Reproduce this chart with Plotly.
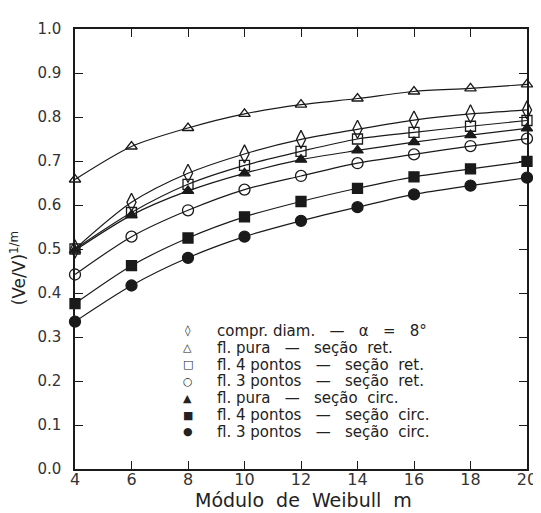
import plotly.graph_objects as go

m_values = [4, 6, 8, 10, 12, 14, 16, 18, 20]

compr_diam = [0.500, 0.606, 0.672, 0.716, 0.749, 0.772, 0.793, 0.807, 0.816]
pura_ret = [0.658, 0.733, 0.775, 0.807, 0.828, 0.842, 0.858, 0.865, 0.874]
quatro_ret = [0.500, 0.583, 0.647, 0.690, 0.722, 0.750, 0.765, 0.779, 0.792]
tres_ret = [0.442, 0.528, 0.588, 0.635, 0.666, 0.695, 0.715, 0.734, 0.751]
pura_circ = [0.497, 0.577, 0.632, 0.672, 0.703, 0.724, 0.743, 0.759, 0.774]
quatro_circ = [0.376, 0.462, 0.525, 0.573, 0.608, 0.638, 0.664, 0.682, 0.699]
tres_circ = [0.335, 0.417, 0.480, 0.528, 0.564, 0.595, 0.624, 0.644, 0.662]

NB = "\u00a0"
names = [
    f"compr.{NB}diam.{NB*3}—{NB*3}α{NB*3}={NB*3}8°",
    f"fl.{NB}pura{NB*3}—{NB*3}seção{NB*2}ret.",
    f"fl.{NB}4{NB}pontos{NB*3}—{NB*3}seção{NB*2}ret.",
    f"fl.{NB}3{NB}pontos{NB*3}—{NB*3}seção{NB*2}ret.",
    f"fl.{NB}pura{NB*3}—{NB*3}seção{NB*2}circ.",
    f"fl.{NB}4{NB}pontos{NB*3}—{NB*3}seção{NB*2}circ.",
    f"fl.{NB}3{NB}pontos{NB*3}—{NB*3}seção{NB*2}circ.",
]
legend_glyphs = ["◊", "△", "□", "○", "▲", "■", "●"]
series = [compr_diam, pura_ret, quatro_ret, tres_ret, pura_circ, quatro_circ, tres_circ]
symbols = ["diamond-tall-open", "triangle-up-open", "square-open", "circle-open",
           "triangle-up", "square", "circle"]
sizes = [13, 10, 10, 11, 10, 10, 11]

x_ticks = [4, 6, 8, 10, 12, 14, 16, 18, 20]
y_ticks = [0.0, 0.1, 0.2, 0.3, 0.4, 0.5, 0.6, 0.7, 0.8, 0.9, 1.0]

# page geometry: the page body shifts the figure by 8px right/down
OFF = 8
W, H = 541, 513
PLOT_L, PLOT_R, PLOT_T, PLOT_B = 75, 529, 20, 469   # target page pixels
L, T = PLOT_L - OFF, PLOT_T - OFF
R, B = W - (PLOT_R - OFF), H - (PLOT_B - OFF)
PW, PH = W - L - R, H - T - B


def px_x(px):
    return (px - OFF - L) / PW


def px_y(py):
    return (H - B - (py - OFF)) / PH


ink = "#1a1a1a"
FONT = "DejaVu Sans"
fig = go.Figure()
for name, ys, sym, sz in zip(names, series, symbols, sizes):
    fig.add_trace(go.Scatter(
        x=m_values, y=ys, mode="lines+markers", name=name, showlegend=False,
        line=dict(color=ink, width=1.2, shape="spline", smoothing=0.8),
        marker=dict(symbol=sym, size=sz, color=ink,
                    line=dict(color=ink, width=1.3)),
        cliponaxis=False,
    ))

axis_common = dict(
    showline=True, linecolor=ink, linewidth=1.5, mirror="ticks",
    ticks="inside", ticklen=8, tickcolor=ink, tickwidth=1.2,
    showgrid=False, zeroline=False,
)
fig.update_xaxes(range=[4, 20], tickvals=x_ticks, ticktext=[str(v) for v in x_ticks],
                 tickfont=dict(family=FONT, size=16, color="#333"),
                 ticklabelstandoff=-5, **axis_common)
fig.update_yaxes(range=[0, 1.0], tickvals=y_ticks, ticktext=[f"{v:.1f}" for v in y_ticks],
                 tickfont=dict(family=FONT, size=15, color="#333"),
                 ticklabelstandoff=9, **axis_common)

annotations = [
    dict(text=f"Módulo{NB*2}de{NB*2}Weibull{NB*2}m", xref="paper", yref="paper",
         x=px_x(305), y=px_y(501), xanchor="center", yanchor="middle", showarrow=False,
         font=dict(family=FONT, size=19, color="#222")),
    dict(text="(Ve/V)<sup>1/m</sup>", xref="paper", yref="paper",
         x=px_x(18), y=px_y(264), xanchor="center", yanchor="middle", showarrow=False,
         textangle=-90, font=dict(family=FONT, size=17, color="#222")),
]
for i, (glyph, name) in enumerate(zip(legend_glyphs, names)):
    row_y = px_y(328 + 17.2 * i)
    annotations.append(dict(text=glyph, xref="paper", yref="paper", x=px_x(188), y=row_y,
                            xanchor="center", yanchor="middle", showarrow=False,
                            font=dict(family=FONT, size=11, color="#222")))
    annotations.append(dict(text=name, xref="paper", yref="paper", x=px_x(216), y=row_y,
                            xanchor="left", yanchor="middle", showarrow=False,
                            font=dict(family=FONT, size=15, color="#222")))

fig.update_layout(
    width=W, height=H,
    margin=dict(l=L, r=R, t=T, b=B),
    paper_bgcolor="white", plot_bgcolor="white",
    showlegend=False,
    annotations=annotations,
)

fig.write_html("out.html")
